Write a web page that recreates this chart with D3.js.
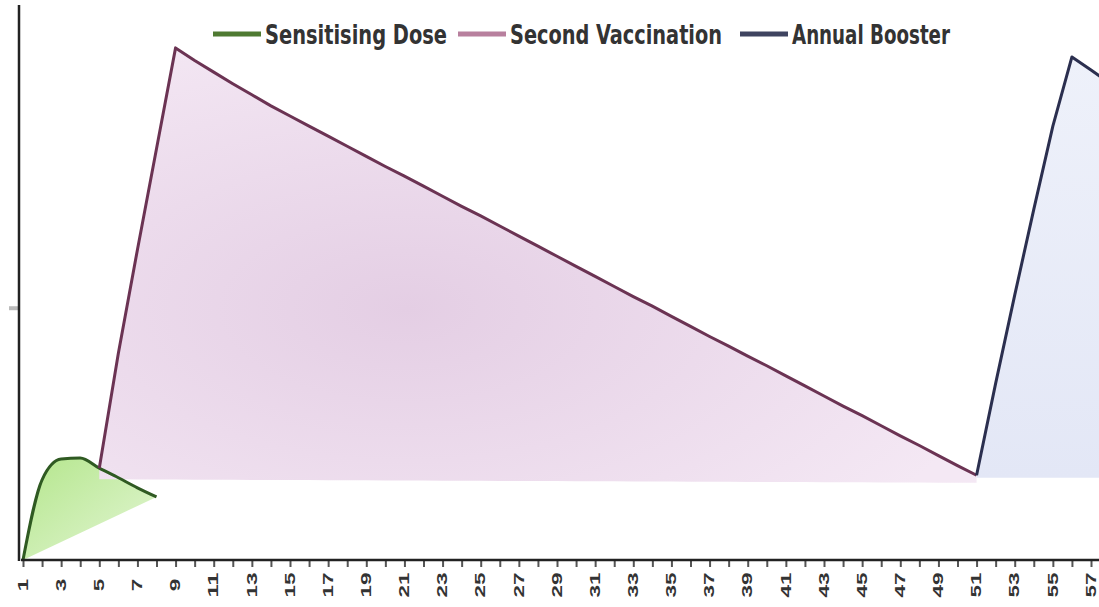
<!doctype html>
<html>
  <head>
    <script src="https://cdn.jsdelivr.net/npm/d3@7/dist/d3.min.js"></script>
    <style>
      body { margin: 0; background: #fff; }
      .legend text { font-family: "Liberation Sans Narrow", "DejaVu Sans Condensed", "Liberation Sans", sans-serif;
                     font-weight: bold; font-size: 26px; fill: #333; }
      .x-axis text { font-family: "Liberation Sans", Arial, sans-serif; font-weight: bold;
                     font-size: 15px; fill: #333; }
    </style>
  </head>
  <body>
    <div id="chart"></div>
    <script>
      var width = 1099, height = 607;

      // weeks along the x axis (only odd ones are labelled)
      var weeks = d3.range(1, 59);
      var tickLabels = d3.range(1, 58, 2);

      // (arbitrary antibody level, 0-110)
      var sensitisingWeeks = [1, 2, 3, 4, 5, 6, 7, 8];
      var sensitisingVals  = [0, 15.9, 20.0, 20.2, 18.2, 16.3, 14.3, 12.5];

      var secondWeeks = d3.range(5, 52);
      var secondVals  = [18.2, 41.0, 61.5, 81.5, 101.5, 99.0, 96.7, 94.4, 92.2, 90.0,
                         88.0, 86.0, 84.0, 82.0, 80.0, 78.0, 76.1, 74.1, 72.1, 70.1,
                         68.2, 66.2, 64.2, 62.2, 60.2, 58.2, 56.2, 54.2, 52.2, 50.3,
                         48.3, 46.3, 44.3, 42.4, 40.4, 38.5, 36.5, 34.5, 32.5, 30.5,
                         28.6, 26.6, 24.6, 22.7, 20.7, 18.7, 16.8];

      var boosterWeeks = [51, 52, 53, 54, 55, 56, 57, 58];
      var boosterVals  = [16.8, 35.0, 52.5, 69.5, 86.0, 99.7, 97.1, 94.5];

      // level the shaded area is closed down to, at start and end of each series
      var sensitisingBase = [0, 12.5];
      var secondBase = [16.0, 15.3];
      var boosterBase = [16.3, 16.3];

      var seriesNames = ["Sensitising Dose", "Second Vaccination", "Annual Booster"];

      var x = d3.scaleLinear().domain([1, 57]).range([23, 1091]);
      var y = d3.scaleLinear().domain([0, 110]).range([560, 5]);

      var svg = d3.select("#chart").append("svg")
        .attr("width", width)
        .attr("height", height);

      var defs = svg.append("defs");

      var gGreen = defs.append("linearGradient").attr("id", "gGreen")
        .attr("x1", "0").attr("y1", "0").attr("x2", "1").attr("y2", "1");
      gGreen.append("stop").attr("offset", "0").attr("stop-color", "#b4e68c");
      gGreen.append("stop").attr("offset", "1").attr("stop-color", "#e4f6d6");

      var gPink = defs.append("radialGradient").attr("id", "gPink")
        .attr("cx", "0.35").attr("cy", "0.6").attr("r", "0.7");
      gPink.append("stop").attr("offset", "0").attr("stop-color", "#e4cee4");
      gPink.append("stop").attr("offset", "1").attr("stop-color", "#f4e8f4");

      var gBlue = defs.append("linearGradient").attr("id", "gBlue")
        .attr("x1", "0").attr("y1", "0").attr("x2", "0").attr("y2", "1");
      gBlue.append("stop").attr("offset", "0").attr("stop-color", "#eef1fa");
      gBlue.append("stop").attr("offset", "1").attr("stop-color", "#e3e7f6");

      var series = [
        { name: seriesNames[0], weeks: sensitisingWeeks, vals: sensitisingVals, base: sensitisingBase,
          fill: "url(#gGreen)", stroke: "#2f5a22", legend: "#4f7a32", curve: d3.curveMonotoneX },
        { name: seriesNames[1], weeks: secondWeeks, vals: secondVals, base: secondBase,
          fill: "url(#gPink)", stroke: "#6b3353", legend: "#b8809e", curve: d3.curveLinear },
        { name: seriesNames[2], weeks: boosterWeeks, vals: boosterVals, base: boosterBase,
          fill: "url(#gBlue)", stroke: "#2b2f4f", legend: "#3f4460", curve: d3.curveLinear }
      ];

      var plot = svg.append("g");

      series.forEach(function(s) {
        var pts = s.weeks.map(function(w, i) { return { w: w, v: s.vals[i] }; });
        var w0 = s.weeks[0], w1 = s.weeks[s.weeks.length - 1];
        var baseAt = function(w) {
          return s.base[0] + (s.base[1] - s.base[0]) * (w - w0) / (w1 - w0);
        };
        var area = d3.area()
          .x(function(d) { return x(d.w); })
          .y0(function(d) { return y(baseAt(d.w)); })
          .y1(function(d) { return y(d.v); })
          .curve(s.curve);
        plot.append("path").datum(pts)
          .attr("d", area)
          .attr("fill", s.fill);
        s.pts = pts;
      });

      series.forEach(function(s) {
        var line = d3.line()
          .x(function(d) { return x(d.w); })
          .y(function(d) { return y(d.v); })
          .curve(s.curve);
        plot.append("path").datum(s.pts)
          .attr("d", line)
          .attr("fill", "none")
          .attr("stroke", s.stroke)
          .attr("stroke-width", 3)
          .attr("stroke-linejoin", "round");
      });

      // x axis
      var xAxis = svg.append("g")
        .attr("class", "x-axis")
        .attr("transform", "translate(0," + y(0) + ")")
        .call(d3.axisBottom(x)
          .tickValues(weeks)
          .tickSize(7)
          .tickFormat(function(d) { return tickLabels.indexOf(d) >= 0 ? d : ""; }));
      xAxis.select(".domain").remove();
      xAxis.append("line")
        .attr("x1", 21).attr("x2", width)
        .attr("stroke", "#222").attr("stroke-width", 2.5);
      xAxis.selectAll(".tick line").attr("stroke", "#555").attr("stroke-width", 2);
      // the photographed labels are wide and heavy: stretch them
      xAxis.selectAll(".tick text")
        .filter(function(d) { return tickLabels.indexOf(d) >= 0; })
        .attr("y", 0).attr("dy", "0.35em")
        .attr("text-anchor", "middle")
        .attr("textLength", function(d) { return String(d).length * 12.5; })
        .attr("lengthAdjust", "spacingAndGlyphs")
        .attr("transform", "translate(-1,25) rotate(-90)");

      // y axis
      var yAxis = svg.append("g")
        .attr("transform", "translate(19,0)")
        .call(d3.axisLeft(y).tickValues([50]).tickSize(10).tickFormat(""));
      yAxis.select(".domain").remove();
      yAxis.append("line")
        .attr("y1", y(110)).attr("y2", y(0) + 1)
        .attr("stroke", "#222").attr("stroke-width", 2.5);
      yAxis.selectAll(".tick line").attr("stroke", "#bbb").attr("stroke-width", 4);

      // legend
      var legendX = [213, 458, 740];
      var legendW = [182, 212, 158];
      var legend = svg.append("g").attr("class", "legend");
      series.forEach(function(s, i) {
        var g = legend.append("g").attr("transform", "translate(" + legendX[i] + ",34)");
        g.append("line").attr("x1", 0).attr("x2", 48)
          .attr("stroke", s.legend).attr("stroke-width", 5);
        g.append("text").attr("x", 52).attr("y", 10)
          .attr("textLength", legendW[i])
          .attr("lengthAdjust", "spacingAndGlyphs")
          .text(s.name);
      });
    </script>
  </body>
</html>
